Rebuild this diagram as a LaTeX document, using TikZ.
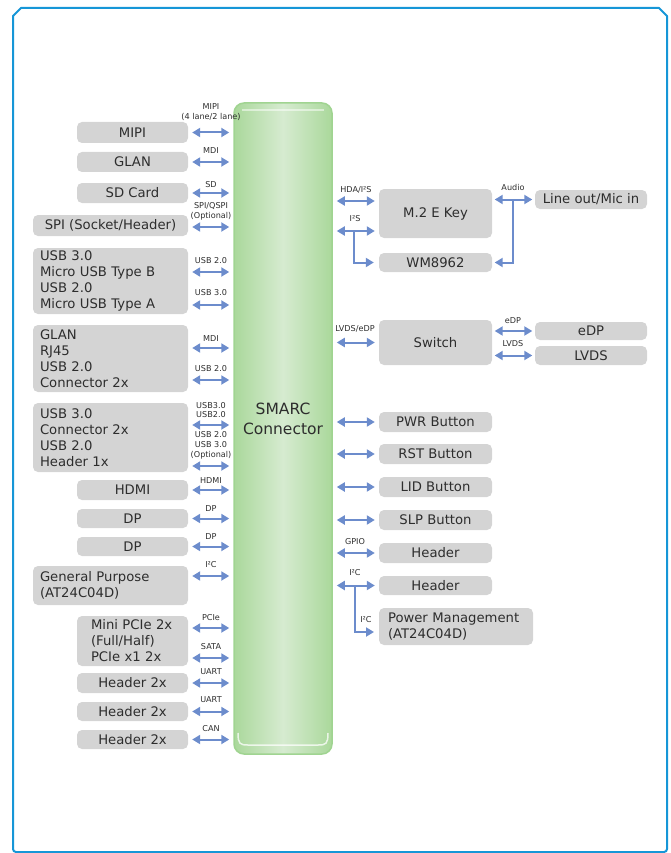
\documentclass[tikz,border=0pt]{standalone}
\usepackage{fontspec}
\setmainfont{DejaVu Sans}
\usetikzlibrary{arrows.meta}
\definecolor{framec}{RGB}{22,150,215}
\definecolor{boxg}{RGB}{212,212,212}
\definecolor{txt}{RGB}{45,45,45}
\definecolor{arrc}{RGB}{108,140,204}
\definecolor{gborder}{RGB}{160,212,145}
\definecolor{gedge}{RGB}{170,216,155}
\definecolor{gmid}{RGB}{214,235,208}
\newcommand\gbox[7][]{%
  \pgfmathsetmacro\bw{#4-#3}\pgfmathsetmacro\bh{#6-#5}%
  \node[box,minimum width=\bw pt,minimum height=\bh pt,#1] (#2) at ({(#3+#4)/2},{(#5+#6)/2}) {#7};}
\begin{document}
\begin{tikzpicture}[x=1pt,y=-1pt,
  box/.style={rounded corners=5pt, fill=boxg, text=txt, inner sep=0pt, font=\fontsize{13.2}{16}\selectfont},
  lft/.style={align=left, inner xsep=7pt, text width=#1},
  lbl/.style={text=txt, inner sep=0pt, font=\fontsize{8.1}{9.7}\selectfont, align=center},
  dbl/.style={draw=arrc, line width=2pt, {Triangle[length=8pt,width=9pt]}-{Triangle[length=8pt,width=9pt]}, shorten <=4pt, shorten >=4pt},
  dbls/.style={dbl, shorten <=2.5pt, shorten >=2.5pt},
  sgl/.style={draw=arrc, line width=2pt, -{Triangle[length=8pt,width=9pt]}, shorten >=#1},
  sgl/.default=5pt,
  frm/.style={draw=framec, line width=2pt, line join=round}
]
\useasboundingbox (0,0) rectangle (670,853);
% outer frame
\draw[frm, rounded corners=3pt] (13,40) -- (13,852) -- (667,852) -- (667,40);
\draw[frm] (13,40) -- (13,16) -- (21,8) -- (659,8) -- (667,16) -- (667,40);

% SMARC connector
\node[draw=gborder, line width=1.5pt, rounded corners=10pt,
      left color=gedge, right color=gedge, middle color=gmid,
      minimum width=98pt, minimum height=651pt, inner sep=0pt,
      label={[text=txt, font=\fontsize{15.5}{20}\selectfont, align=center, yshift=10pt]center:SMARC\\Connector}]
      (smarc) at (283,428.5) {};
\draw[white, opacity=0.75, line width=1.5pt] (238,733) .. controls (238,744) and (240,745) .. (248,745) -- (318,745) .. controls (326,745) and (328,744) .. (328,733);
\draw[white, opacity=0.5, line width=1.2pt] (242,110) -- (324,110);

% left boxes
\gbox{mipi}{77}{188}{122}{143}{MIPI}
\gbox{glan}{77}{188}{152}{172}{GLAN}
\gbox{sd}{77}{188}{183}{203}{SD Card}
\gbox{spi}{33}{188}{215}{236}{SPI (Socket/Header)}
\gbox[lft=141pt]{usba}{33}{188}{248}{314}{USB~3.0\\Micro~USB~Type~B\\USB~2.0\\Micro~USB~Type~A}
\gbox[lft=141pt]{glanb}{33}{188}{325}{392}{GLAN\\RJ45\\USB~2.0\\Connector~2x}
\gbox[lft=141pt]{usbc}{33}{188}{403}{472}{USB~3.0\\Connector~2x\\USB~2.0\\Header~1x}
\gbox{hdmi}{77}{188}{480}{500}{HDMI}
\gbox{dpa}{77}{188}{509}{528}{DP}
\gbox{dpb}{77}{188}{537}{556}{DP}
\gbox[lft=141pt]{gp}{33}{188}{566}{605}{General~Purpose\\(AT24C04D)}
\gbox[align=left, inner xsep=14pt, text width=83pt]{pcie}{77}{188}{616}{666}{Mini~PCIe~2x\\(Full/Half)\\PCIe~x1~2x}
\gbox{hda}{77}{188}{673}{693}{Header 2x}
\gbox{hdb}{77}{188}{702}{721}{Header 2x}
\gbox{hdc}{77}{188}{730}{749}{Header 2x}

% right boxes
\gbox{m2}{379}{492}{189}{238}{M.2 E Key}
\gbox{wm}{379}{492}{253}{272}{WM8962}
\gbox{lineout}{535}{647}{190}{209}{Line out/Mic in}
\gbox{switch}{379}{492}{320}{365}{Switch}
\gbox{edp}{535}{647}{322}{340}{eDP}
\gbox{lvds}{535}{647}{346}{365}{LVDS}
\gbox{pwr}{379}{492}{412}{432}{PWR Button}
\gbox{rst}{379}{492}{444}{464}{RST Button}
\gbox{lid}{379}{492}{477}{497}{LID Button}
\gbox{slp}{379}{492}{510}{530}{SLP Button}
\gbox{hdr1}{379}{492}{543}{563}{Header}
\gbox{hdr2}{379}{492}{576}{595}{Header}
\gbox[align=left, inner xsep=9pt, text width=136pt]{pm}{379}{533}{608}{645}{Power~Management\\(AT24C04D)}

% left connectors
\draw[dbl] (mipi.east) -- (mipi.east -| smarc.west);
\draw[dbl] (glan.east) -- (glan.east -| smarc.west);
\draw[dbl] (sd.east) -- (sd.east -| smarc.west);
\draw[dbl] (spi.east |- 0,227) -- (smarc.west |- 0,227);
\draw[dbl] (usba.east |- 0,272) -- (smarc.west |- 0,272);
\draw[dbl] (usba.east |- 0,305) -- (smarc.west |- 0,305);
\draw[dbl] (glanb.east |- 0,348) -- (smarc.west |- 0,348);
\draw[dbl] (glanb.east |- 0,380) -- (smarc.west |- 0,380);
\draw[dbl] (usbc.east |- 0,425) -- (smarc.west |- 0,425);
\draw[dbl] (usbc.east |- 0,466) -- (smarc.west |- 0,466);
\draw[dbl] (hdmi.east) -- (hdmi.east -| smarc.west);
\draw[dbl] (dpa.east) -- (dpa.east -| smarc.west);
\draw[dbl] (dpb.east) -- (dpb.east -| smarc.west);
\draw[dbl] (gp.east |- 0,576) -- (smarc.west |- 0,576);
\draw[dbl] (pcie.east |- 0,628) -- (smarc.west |- 0,628);
\draw[dbl] (pcie.east |- 0,658) -- (smarc.west |- 0,658);
\draw[dbl] (hda.east) -- (hda.east -| smarc.west);
\draw[dbl] (hdb.east) -- (hdb.east -| smarc.west);
\draw[dbl] (hdc.east) -- (hdc.east -| smarc.west);

% right connectors
\draw[dbl] (smarc.east |- 0,201) -- (m2.west |- 0,201);
\draw[dbl] (smarc.east |- 0,231) -- (m2.west |- 0,231);
\coordinate (i2sj) at (354,231);
\draw[sgl] (i2sj) |- (wm.west);
\draw[dbls] (m2.east |- lineout.west) -- (lineout.west);
\coordinate (audj) at (513,200);
\draw[sgl=2.5pt] (audj) |- (wm.east);
\draw[dbl] (smarc.east |- switch.west) -- (switch.west);
\draw[dbls] (switch.east |- edp.west) -- (edp.west);
\draw[dbls] (switch.east |- lvds.west) -- (lvds.west);
\draw[dbl] (smarc.east |- pwr.west) -- (pwr.west);
\draw[dbl] (smarc.east |- rst.west) -- (rst.west);
\draw[dbl] (smarc.east |- lid.west) -- (lid.west);
\draw[dbl] (smarc.east |- slp.west) -- (slp.west);
\draw[dbl] (smarc.east |- hdr1.west) -- (hdr1.west);
\draw[dbl] (smarc.east |- hdr2.west) -- (hdr2.west);
\coordinate (i2cj) at (355,586);
\coordinate (pmin) at (379,632);
\draw[sgl] (i2cj) |- (pmin);

% left labels
\node[lbl] (l1) at (211,112) {MIPI\\(4 lane/2 lane)};
\node[lbl] (l2) at (211,151) {MDI};
\node[lbl] (l3) at (211,185) {SD};
\node[lbl] (l4) at (211,211.5) {SPI/QSPI\\(Optional)};
\node[lbl] (l5) at (211,261) {USB 2.0};
\node[lbl] (l6) at (211,293) {USB 3.0};
\node[lbl] (l7) at (211,339) {MDI};
\node[lbl] (l8) at (211,369) {USB 2.0};
\node[lbl] (l9) at (211,410) {USB3.0\\USB2.0};
\node[lbl] (l10) at (211,445.5) {USB 2.0\\USB 3.0\\(Optional)};
\node[lbl] (l11) at (211,481) {HDMI};
\node[lbl] (l12) at (211,509) {DP};
\node[lbl] (l13) at (211,537) {DP};
\node[lbl] (l14) at (211,565) {I²C};
\node[lbl] (l15) at (211,618) {PCIe};
\node[lbl] (l16) at (211,647) {SATA};
\node[lbl] (l17) at (211,672) {UART};
\node[lbl] (l18) at (211,700) {UART};
\node[lbl] (l19) at (211,729) {CAN};

% right labels
\node[lbl] (r1) at (356,190) {HDA/I²S};
\node[lbl] (r2) at (355,219) {I²S};
\node[lbl] (r3) at (513,187) {Audio};
\node[lbl] (r4) at (355,329) {LVDS/eDP};
\node[lbl] (r5) at (513,321) {eDP};
\node[lbl] (r6) at (513,344) {LVDS};
\node[lbl] (r7) at (355,542) {GPIO};
\node[lbl] (r8) at (355,573) {I²C};
\node[lbl] (r9) at (366,620) {I²C};
\end{tikzpicture}
\end{document}
